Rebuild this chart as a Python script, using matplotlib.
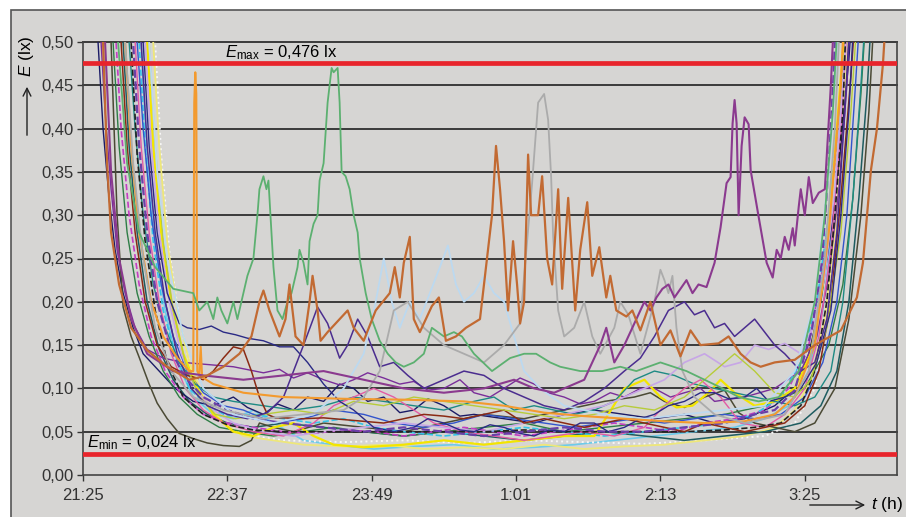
import matplotlib
matplotlib.use("Agg")
import matplotlib.pyplot as plt
from matplotlib.patches import Rectangle

plt.rcParams['font.family'] = ['Liberation Sans', 'DejaVu Sans']
plt.rcParams['mathtext.fontset'] = 'custom'
plt.rcParams['mathtext.rm'] = 'Liberation Sans'
plt.rcParams['mathtext.it'] = 'Liberation Sans:italic'

# time in minutes after 21:25, illuminance in lx
tick_pos = [0, 72, 144, 216, 288, 360]
tick_lab = ['21:25', '22:37', '23:49', '1:01', '2:13', '3:25']
y_ticks = [0.00, 0.05, 0.10, 0.15, 0.20, 0.25, 0.30, 0.35, 0.40, 0.45, 0.50]
e_max = 0.476
e_min = 0.024

# green line with the two big peaks
t_green = [13, 17.5, 22, 28, 36, 45, 55, 58, 62, 65, 67, 69, 72, 75, 77, 80, 82, 85, 87, 88, 90, 91.5,
           92.5, 93.5, 95, 97, 99.5, 102, 104, 107, 108, 110, 112, 113, 115, 117, 118, 120, 122, 124,
           125, 127, 128, 129, 131, 133, 135, 137, 138, 141, 144, 148, 152, 156, 160, 165, 170, 174,
           180, 185, 189, 195, 204, 213, 220, 226, 233, 238, 248, 259, 268, 276, 288, 301, 310, 319,
           327, 337, 347, 357, 365, 370, 374, 377]
e_green = [0.6, 0.5, 0.36, 0.28, 0.24, 0.215, 0.21, 0.19, 0.20, 0.18, 0.205, 0.19, 0.175, 0.20, 0.18,
           0.21, 0.23, 0.25, 0.30, 0.33, 0.345, 0.33, 0.34, 0.30, 0.24, 0.19, 0.18, 0.20, 0.21, 0.24,
           0.26, 0.245, 0.22, 0.27, 0.29, 0.30, 0.34, 0.36, 0.43, 0.47, 0.465, 0.47, 0.43, 0.35, 0.345,
           0.33, 0.30, 0.28, 0.25, 0.21, 0.18, 0.155, 0.14, 0.13, 0.125, 0.13, 0.14, 0.17, 0.16, 0.165,
           0.16, 0.14, 0.12, 0.135, 0.14, 0.14, 0.13, 0.125, 0.12, 0.12, 0.125, 0.12, 0.13, 0.12, 0.11,
           0.10, 0.09, 0.085, 0.09, 0.12, 0.2, 0.3, 0.42, 0.55]

# orange-brown line with many peaks
t_brown = [8, 10, 12, 14, 18, 24, 32, 42, 53, 62, 70, 78, 84, 88, 90, 93, 98, 101, 103, 106, 110, 113,
           114.5, 117, 118.5, 122, 128, 132, 135, 140, 146, 153, 155.5, 158, 160, 163, 165, 168, 174,
           177.5, 181, 186, 191, 198, 204, 206, 208, 210, 212, 214.5, 216.5, 218, 220, 222, 223.5, 227,
           229, 231.5, 234, 237, 239, 242, 245.5, 248, 251.5, 254, 257.5, 261, 263, 266, 271, 274, 278,
           283, 288, 293, 298, 303, 308, 317, 322, 328, 333, 338, 345, 355, 365, 378, 386, 389, 393,
           396, 399, 401]
e_brown = [0.62, 0.5, 0.36, 0.28, 0.22, 0.17, 0.144, 0.125, 0.11, 0.115, 0.125, 0.14, 0.16, 0.20,
           0.213, 0.19, 0.16, 0.18, 0.22, 0.16, 0.15, 0.20, 0.23, 0.19, 0.155, 0.165, 0.18, 0.19, 0.17,
           0.155, 0.19, 0.21, 0.24, 0.205, 0.245, 0.275, 0.18, 0.165, 0.195, 0.205, 0.155, 0.16, 0.17,
           0.18, 0.30, 0.38, 0.33, 0.27, 0.19, 0.27, 0.22, 0.175, 0.20, 0.37, 0.30, 0.30, 0.345, 0.25,
           0.22, 0.33, 0.215, 0.32, 0.19, 0.26, 0.315, 0.23, 0.263, 0.205, 0.23, 0.19, 0.183, 0.19,
           0.167, 0.20, 0.15, 0.167, 0.137, 0.167, 0.15, 0.152, 0.16, 0.14, 0.13, 0.125, 0.13, 0.133,
           0.15, 0.167, 0.205, 0.245, 0.352, 0.40, 0.475, 0.55]

# grey line with the peak after 1:01
t_grey = [19, 21, 25, 30, 36, 44, 55, 70, 90, 110, 130, 140, 148, 155, 162, 170, 180, 190, 200, 210,
          218, 224, 227, 230, 232, 233.5, 234.5, 237, 240, 245, 250, 254, 258, 265, 268, 272, 278, 285,
          288, 290, 292, 294, 296, 299, 305, 315, 330, 350, 362, 370, 375, 378]
e_grey = [0.6, 0.5, 0.36, 0.25, 0.17, 0.12, 0.09, 0.075, 0.065, 0.07, 0.075, 0.09, 0.12, 0.19, 0.2,
          0.17, 0.15, 0.14, 0.13, 0.15, 0.175, 0.337, 0.43, 0.44, 0.41, 0.344, 0.275, 0.19, 0.16, 0.17,
          0.2, 0.16, 0.14, 0.17, 0.2, 0.185, 0.14, 0.2, 0.237, 0.225, 0.21, 0.23, 0.17, 0.12, 0.09,
          0.07, 0.06, 0.07, 0.12, 0.25, 0.4, 0.55]

# pale blue line
t_pale = [30, 33, 37, 42, 50, 60, 75, 95, 115, 130, 140, 146, 150, 154, 158, 163, 168, 173, 178, 182,
          186, 190, 195, 200, 205, 210, 215, 220, 228, 240, 260, 280, 300, 320, 340, 355, 365, 372, 377]
e_pale = [0.6, 0.5, 0.35, 0.25, 0.16, 0.1, 0.07, 0.06, 0.07, 0.1, 0.14, 0.2, 0.25, 0.2, 0.17, 0.2,
          0.18, 0.21, 0.24, 0.265, 0.22, 0.2, 0.21, 0.23, 0.21, 0.2, 0.16, 0.12, 0.1, 0.08, 0.07, 0.065,
          0.07, 0.075, 0.08, 0.12, 0.2, 0.35, 0.52]

# purple line with the peaks before 3:25
t_plum = [9, 11, 14, 18, 24, 32, 45, 60, 80, 100, 120, 140, 160, 180, 200, 215, 225, 235, 250, 258,
          261, 265, 270, 276, 280, 283, 286, 289, 292, 295, 298, 301, 304, 307, 311, 315, 318, 321,
          323, 324, 325, 326, 327, 328.5, 330, 332, 333, 337, 341, 344, 346, 348, 350, 352, 354, 355,
          357, 358, 360, 362, 364, 367, 370, 373, 375]
e_plum = [0.6, 0.5, 0.35, 0.25, 0.18, 0.14, 0.12, 0.115, 0.11, 0.115, 0.12, 0.11, 0.1, 0.095, 0.1,
          0.11, 0.1, 0.095, 0.11, 0.15, 0.17, 0.13, 0.15, 0.18, 0.2, 0.19, 0.205, 0.215, 0.22, 0.205,
          0.215, 0.225, 0.21, 0.22, 0.217, 0.245, 0.286, 0.337, 0.344, 0.406, 0.433, 0.406, 0.30, 0.38,
          0.413, 0.405, 0.352, 0.298, 0.245, 0.228, 0.26, 0.25, 0.275, 0.26, 0.285, 0.265, 0.31,
          0.33, 0.30, 0.344, 0.314, 0.326, 0.33, 0.45, 0.55]

# orange line with the narrow spike
t_orange = [18, 21, 24, 28, 34, 40, 47, 53, 55, 55.5, 56, 56.5, 57, 58, 58.7, 59.4, 65, 80, 100, 130,
            160, 190, 210, 230, 250, 270, 290, 310, 330, 345, 355, 365, 372, 378, 380]
e_orange = [0.6, 0.5, 0.38, 0.28, 0.2, 0.16, 0.135, 0.12, 0.12, 0.43, 0.465, 0.44, 0.12, 0.115,
            0.148, 0.113, 0.105, 0.095, 0.09, 0.088, 0.087, 0.085, 0.08, 0.072, 0.068, 0.065, 0.062,
            0.06, 0.062, 0.07, 0.09, 0.15, 0.28, 0.45, 0.55]

t_navy = [5, 7.5, 10, 13, 16, 20, 25, 30, 38, 46, 55, 65, 75, 82, 90, 97, 105, 112, 120, 128, 135,
          142, 150, 158, 165, 172, 180, 188, 195, 210, 225, 240, 255, 270, 285, 300, 315, 330, 345,
          355, 362, 368, 373, 378, 382, 384]
e_navy = [0.62, 0.5, 0.40, 0.32, 0.26, 0.21, 0.17, 0.14, 0.12, 0.10, 0.085, 0.08, 0.09, 0.078, 0.07,
          0.082, 0.075, 0.09, 0.085, 0.105, 0.10, 0.085, 0.09, 0.072, 0.075, 0.088, 0.08, 0.068, 0.07,
          0.065, 0.06, 0.07, 0.075, 0.07, 0.065, 0.07, 0.06, 0.065, 0.08, 0.10, 0.14, 0.2, 0.28, 0.38,
          0.48, 0.55]

t_purple = [7, 9, 11, 14, 17, 21, 26, 32, 40, 50, 60, 75, 90, 98, 105, 112, 120, 128, 135, 142, 150,
            158, 165, 172, 180, 188, 195, 203, 210, 218, 225, 232, 240, 248, 255, 263, 270, 278, 285,
            293, 300, 308, 315, 330, 345, 358, 366, 372, 377, 381, 383]
e_purple = [0.6, 0.5, 0.42, 0.33, 0.26, 0.21, 0.17, 0.145, 0.135, 0.13, 0.128, 0.125, 0.118, 0.122,
            0.112, 0.118, 0.11, 0.104, 0.11, 0.118, 0.112, 0.105, 0.108, 0.098, 0.1, 0.11, 0.095, 0.09,
            0.1, 0.112, 0.105, 0.095, 0.09, 0.082, 0.085, 0.095, 0.09, 0.1, 0.1, 0.09, 0.095, 0.1,
            0.085, 0.09, 0.1, 0.12, 0.16, 0.23, 0.33, 0.45, 0.55]

t_olive = [12, 14, 17, 20, 24, 28, 33, 37, 42, 48, 55, 62, 70, 78, 84, 88, 95, 105, 120, 140, 160,
           180, 200, 220, 240, 260, 275, 283, 290, 300, 310, 320, 327, 335, 345, 355, 365, 375, 382,
           388, 392, 395]
e_olive = [0.65, 0.5, 0.3, 0.194, 0.16, 0.136, 0.105, 0.083, 0.065, 0.048, 0.042, 0.037, 0.034,
           0.033, 0.04, 0.06, 0.055, 0.05, 0.06, 0.055, 0.05, 0.06, 0.07, 0.065, 0.075, 0.085, 0.09,
           0.095, 0.085, 0.078, 0.09, 0.098, 0.072, 0.06, 0.055, 0.05, 0.06, 0.1, 0.18, 0.3, 0.42, 0.55]

t_dkgreen = [13, 15, 18, 22, 27, 33, 40, 48, 57, 68, 80, 95, 110, 125, 140, 160, 180, 200, 220, 240,
             260, 280, 300, 320, 340, 360, 372, 379, 384, 388, 391]
e_dkgreen = [0.6, 0.5, 0.38, 0.28, 0.21, 0.16, 0.12, 0.09, 0.07, 0.055, 0.05, 0.045, 0.05, 0.055,
             0.05, 0.045, 0.05, 0.055, 0.06, 0.05, 0.055, 0.06, 0.065, 0.07, 0.08, 0.1, 0.15, 0.22,
             0.32, 0.44, 0.55]

t_magenta = [14, 16.5, 19, 23, 28, 34, 41, 50, 60, 72, 85, 100, 115, 130, 145, 160, 175, 190, 205,
             220, 235, 250, 265, 280, 295, 310, 325, 340, 352, 362, 369, 375, 379, 382]
e_magenta = [0.6, 0.5, 0.4, 0.3, 0.22, 0.16, 0.12, 0.09, 0.07, 0.06, 0.055, 0.05, 0.048, 0.052, 0.05,
             0.045, 0.05, 0.055, 0.05, 0.045, 0.05, 0.055, 0.06, 0.055, 0.05, 0.06, 0.065, 0.075, 0.1,
             0.15, 0.24, 0.36, 0.48, 0.56]

t_cyan = [26, 28, 31, 35, 40, 46, 53, 62, 72, 85, 100, 115, 130, 145, 160, 180, 200, 220, 240, 260,
          280, 300, 320, 335, 348, 358, 366, 372, 377, 381]
e_cyan = [0.6, 0.5, 0.38, 0.27, 0.19, 0.14, 0.1, 0.08, 0.068, 0.07, 0.065, 0.06, 0.065, 0.055, 0.05,
          0.045, 0.05, 0.055, 0.05, 0.045, 0.05, 0.055, 0.06, 0.07, 0.09, 0.13, 0.2, 0.3, 0.42, 0.55]

t_violet = [23, 25, 28, 32, 37, 43, 50, 60, 72, 85, 100, 120, 140, 160, 180, 200, 220, 240, 260, 280,
            300, 320, 335, 345, 355, 363.5, 368.5, 372, 374.5, 376]
e_violet = [0.6, 0.5, 0.38, 0.28, 0.2, 0.15, 0.115, 0.09, 0.075, 0.065, 0.06, 0.055, 0.05, 0.055,
            0.05, 0.045, 0.05, 0.055, 0.05, 0.05, 0.055, 0.06, 0.07, 0.075, 0.098, 0.167, 0.245, 0.36,
            0.468, 0.56]

t_blue = [25, 27, 30, 34, 39, 45, 52, 60, 70, 80, 95, 110, 125, 140, 155, 170, 185, 200, 215, 230,
          245, 260, 275, 290, 305, 320, 335, 348, 360, 369, 376, 381, 385, 388]
e_blue = [0.6, 0.5, 0.4, 0.3, 0.22, 0.16, 0.12, 0.095, 0.08, 0.075, 0.06, 0.065, 0.075, 0.07, 0.06,
          0.055, 0.06, 0.07, 0.065, 0.06, 0.055, 0.06, 0.065, 0.06, 0.065, 0.07, 0.065, 0.07, 0.09,
          0.13, 0.2, 0.3, 0.44, 0.55]

t_navy2 = [28, 30, 33, 37, 42, 48, 52, 58, 64, 70, 76, 82, 90, 98, 105, 112, 120, 128, 135, 145, 155,
           165, 172, 180, 188, 195, 203, 210, 218, 225, 232, 240, 248, 255, 262, 270, 278, 285, 292,
           300, 308, 315, 322, 330, 336, 342, 350, 358, 366, 373, 378, 382, 385]
e_navy2 = [0.6, 0.5, 0.38, 0.28, 0.21, 0.175, 0.17, 0.168, 0.172, 0.165, 0.162, 0.158, 0.155, 0.148,
           0.148, 0.13, 0.105, 0.085, 0.075, 0.055, 0.05, 0.055, 0.065, 0.06, 0.052, 0.05, 0.058,
           0.055, 0.048, 0.045, 0.052, 0.05, 0.06, 0.06, 0.05, 0.055, 0.065, 0.07, 0.08, 0.085, 0.095,
           0.095, 0.088, 0.09, 0.1, 0.085, 0.09, 0.1, 0.13, 0.19, 0.3, 0.42, 0.55]

t_yellow = [30, 32, 35, 39, 44, 50, 57, 65, 75, 85, 95, 105, 115, 125, 140, 160, 180, 200, 220, 240,
            255, 262, 270, 280, 288, 296, 304, 312, 318, 325, 335, 345, 355, 363, 369, 374, 378, 381]
e_yellow = [0.6, 0.5, 0.38, 0.28, 0.2, 0.14, 0.1, 0.07, 0.05, 0.045, 0.055, 0.06, 0.045, 0.035, 0.032,
            0.035, 0.04, 0.035, 0.04, 0.045, 0.045, 0.07, 0.1, 0.11, 0.09, 0.078, 0.08, 0.095, 0.11,
            0.095, 0.08, 0.085, 0.1, 0.14, 0.22, 0.34, 0.46, 0.55]

t_ltyellow = [33, 35, 38, 42, 47, 53, 60, 70, 80, 95, 110, 130, 150, 170, 190, 210, 230, 250, 270,
              290, 310, 330, 345, 355, 363, 370, 375, 379, 383]
e_ltyellow = [0.6, 0.5, 0.38, 0.27, 0.19, 0.13, 0.09, 0.06, 0.045, 0.04, 0.035, 0.033, 0.035, 0.03,
              0.032, 0.03, 0.035, 0.03, 0.033, 0.035, 0.04, 0.045, 0.055, 0.075, 0.11, 0.18, 0.28,
              0.4, 0.55]

t_teal = [21, 23, 26, 30, 35, 41, 48, 56, 65, 75, 90, 105, 120, 135, 150, 165, 180, 195, 205, 215,
          225, 235, 245, 255, 265, 275, 285, 295, 305, 315, 325, 335, 345, 355, 365, 373, 379, 384,
          388, 391]
e_teal = [0.6, 0.5, 0.4, 0.3, 0.22, 0.17, 0.13, 0.105, 0.09, 0.085, 0.08, 0.075, 0.08, 0.09, 0.085,
          0.08, 0.075, 0.085, 0.09, 0.075, 0.08, 0.075, 0.07, 0.075, 0.085, 0.11, 0.12, 0.115, 0.105,
          0.1, 0.095, 0.09, 0.085, 0.08, 0.09, 0.12, 0.2, 0.32, 0.45, 0.56]

t_pink = [24, 26, 29, 33, 38, 44, 51, 60, 70, 85, 100, 115, 125, 135, 145, 155, 165, 175, 190, 205,
          220, 235, 250, 265, 280, 290, 300, 308, 318, 328, 340, 350, 360, 367, 373, 378, 382]
e_pink = [0.6, 0.5, 0.38, 0.28, 0.2, 0.14, 0.1, 0.075, 0.06, 0.05, 0.045, 0.06, 0.08, 0.09, 0.1,
          0.09, 0.075, 0.06, 0.05, 0.045, 0.04, 0.045, 0.05, 0.045, 0.055, 0.08, 0.1, 0.11, 0.09,
          0.06, 0.055, 0.07, 0.1, 0.16, 0.26, 0.4, 0.55]

t_lavender = [29, 31, 34, 38, 43, 49, 56, 65, 75, 90, 105, 120, 140, 160, 180, 200, 220, 240, 260,
              275, 290, 300, 310, 320, 328, 335, 342, 350, 358, 364, 370, 375, 379, 382]
e_lavender = [0.6, 0.5, 0.38, 0.28, 0.2, 0.14, 0.1, 0.075, 0.06, 0.05, 0.045, 0.05, 0.055, 0.06,
              0.055, 0.05, 0.06, 0.07, 0.08, 0.095, 0.11, 0.13, 0.14, 0.125, 0.13, 0.15, 0.145, 0.152,
              0.14, 0.17, 0.23, 0.33, 0.45, 0.55]

t_black = [22, 24, 27, 31, 36, 42, 50, 60, 72, 85, 100, 120, 140, 160, 180, 200, 220, 240, 260, 280,
           300, 320, 335, 348, 358, 365, 371, 375, 379, 381]
e_black = [0.6, 0.5, 0.37, 0.27, 0.19, 0.13, 0.09, 0.07, 0.058, 0.052, 0.05, 0.05, 0.05, 0.05, 0.05,
           0.05, 0.052, 0.05, 0.05, 0.05, 0.05, 0.052, 0.055, 0.06, 0.08, 0.12, 0.2, 0.3, 0.42, 0.55]

t_redbrown = [17, 19, 22, 26, 31, 37, 44, 52, 60, 65, 70, 75, 80, 84, 88, 92, 96, 100, 110, 120, 130,
              140, 150, 160, 170, 180, 190, 200, 210, 220, 230, 240, 250, 260, 270, 280, 290, 300,
              310, 320, 330, 340, 350, 360, 367, 373, 378, 383, 386]
e_redbrown = [0.6, 0.5, 0.38, 0.28, 0.2, 0.15, 0.125, 0.115, 0.11, 0.12, 0.135, 0.148, 0.145, 0.12,
              0.09, 0.07, 0.066, 0.066, 0.065, 0.066, 0.064, 0.062, 0.06, 0.065, 0.07, 0.068, 0.065,
              0.07, 0.075, 0.06, 0.065, 0.06, 0.055, 0.06, 0.065, 0.06, 0.055, 0.05, 0.06, 0.055,
              0.05, 0.055, 0.06, 0.08, 0.12, 0.2, 0.32, 0.46, 0.56]

t_indigo = [27, 29, 32, 36, 41, 47, 54, 62, 72, 82, 92, 100, 105, 110, 114, 117, 122, 128, 132, 137,
            142, 148, 155, 162, 170, 180, 190, 200, 210, 220, 230, 240, 250, 260, 270, 278, 285, 292,
            300, 305, 310, 315, 320, 325, 330, 335, 340, 345, 350, 358, 365, 371, 376, 380, 383]
e_indigo = [0.6, 0.5, 0.38, 0.28, 0.2, 0.14, 0.1, 0.08, 0.07, 0.065, 0.072, 0.09, 0.12, 0.15, 0.175,
            0.194, 0.175, 0.135, 0.15, 0.18, 0.16, 0.125, 0.13, 0.115, 0.1, 0.11, 0.12, 0.115, 0.1,
            0.09, 0.08, 0.075, 0.085, 0.1, 0.12, 0.135, 0.16, 0.19, 0.2, 0.185, 0.19, 0.17, 0.175,
            0.16, 0.17, 0.18, 0.165, 0.15, 0.14, 0.12, 0.13, 0.18, 0.28, 0.42, 0.55]

t_white = [34, 36, 39, 43, 48, 54, 62, 72, 85, 100, 130, 160, 190, 220, 250, 280, 310, 340, 355, 365,
           372, 377, 381]
e_white = [0.6, 0.5, 0.37, 0.26, 0.18, 0.12, 0.08, 0.055, 0.045, 0.04, 0.038, 0.04, 0.037, 0.04,
           0.038, 0.036, 0.04, 0.045, 0.06, 0.1, 0.2, 0.35, 0.55]

t_lime = [31, 33, 36, 40, 45, 51, 58, 66, 76, 90, 105, 120, 135, 150, 165, 180, 195, 210, 225, 240,
          255, 270, 285, 300, 315, 325, 335, 345, 355, 363, 371, 378, 383, 387]
e_lime = [0.6, 0.5, 0.38, 0.27, 0.19, 0.13, 0.09, 0.07, 0.065, 0.07, 0.075, 0.07, 0.085, 0.08, 0.09,
          0.085, 0.08, 0.075, 0.07, 0.065, 0.07, 0.08, 0.075, 0.09, 0.12, 0.14, 0.12, 0.095, 0.09,
          0.11, 0.17, 0.28, 0.42, 0.56]

t_sky = [27, 29, 32, 36, 41, 47, 55, 65, 75, 85, 95, 110, 125, 145, 165, 185, 205, 225, 245, 265,
         285, 305, 325, 340, 352, 362, 369, 374, 378, 381]
e_sky = [0.6, 0.5, 0.37, 0.27, 0.19, 0.13, 0.09, 0.07, 0.065, 0.075, 0.06, 0.04, 0.035, 0.03, 0.033,
         0.035, 0.03, 0.032, 0.035, 0.04, 0.045, 0.05, 0.055, 0.065, 0.08, 0.12, 0.19, 0.29, 0.42,
         0.55]

t_dkteal = [18, 20, 23, 27, 32, 38, 45, 53, 62, 72, 85, 100, 120, 140, 160, 180, 200, 220, 240, 260,
            280, 300, 320, 340, 358, 368, 376, 382, 387, 391, 394]
e_dkteal = [0.6, 0.5, 0.38, 0.28, 0.2, 0.145, 0.11, 0.085, 0.07, 0.06, 0.055, 0.06, 0.055, 0.05,
            0.045, 0.05, 0.045, 0.04, 0.045, 0.05, 0.045, 0.04, 0.045, 0.05, 0.06, 0.08, 0.12, 0.2,
            0.32, 0.44, 0.56]

W, H = 906, 517
fig = plt.figure(figsize=(W / 100, H / 100), dpi=100)
fig.patch.set_facecolor('white')
bg = '#D6D5D3'
fig.patches.append(Rectangle((11 / W, -0.05), 1.1, 1 - 10 / H + 0.05, transform=fig.transFigure,
                             facecolor=bg, edgecolor='#555555', linewidth=1.2, zorder=-10))

ax = fig.add_axes([83 / W, 42 / H, 814 / W, 433 / H])
ax.set_facecolor(bg)
ax.set_xlim(0, 406)
ax.set_ylim(0, 0.5)

for y in y_ticks[1:]:
    ax.axhline(y, color='#3A3A3A', lw=1.4, zorder=1, clip_on=False)

series = [
    (t_sky, e_sky, '#6CCBEA', '-', 1.2),
    (t_white, e_white, '#F6F6F6', ':', 1.4),
    (t_ltyellow, e_ltyellow, '#EEE77A', '-', 1.3),
    (t_dkteal, e_dkteal, '#1E5C60', '-', 1.1),
    (t_navy, e_navy, '#1B1B66', '-', 1.0),
    (t_purple, e_purple, '#7A2E9A', '-', 1.0),
    (t_olive, e_olive, '#4B4A35', '-', 1.1),
    (t_dkgreen, e_dkgreen, '#2E7D46', '-', 1.0),
    (t_magenta, e_magenta, '#C33CC3', '--', 1.2),
    (t_cyan, e_cyan, '#35C4E8', '--', 1.2),
    (t_blue, e_blue, '#3355CC', '-', 1.0),
    (t_yellow, e_yellow, '#F3E500', '-', 1.6),
    (t_teal, e_teal, '#1E8A84', '-', 1.0),
    (t_pink, e_pink, '#E35BA5', '-', 1.0),
    (t_lavender, e_lavender, '#C7A6E6', '-', 1.2),
    (t_black, e_black, '#222222', '--', 1.2),
    (t_redbrown, e_redbrown, '#8A2A14', '-', 1.1),
    (t_lime, e_lime, '#B7CC3A', '-', 1.0),
    (t_navy2, e_navy2, '#2A2A85', '-', 1.0),
    (t_indigo, e_indigo, '#4B2D8F', '-', 1.1),
    (t_violet, e_violet, '#6B3FA8', '--', 1.6),
    (t_pale, e_pale, '#BCD9F0', '-', 1.3),
    (t_orange, e_orange, '#F39A2E', '-', 1.5),
    (t_grey, e_grey, '#ABABAB', '-', 1.3),
    (t_green, e_green, '#5CB070', '-', 1.3),
    (t_plum, e_plum, '#8B3A8F', '-', 1.5),
    (t_brown, e_brown, '#C26A32', '-', 1.6),
]
for t, e, c, ls, lw in series:
    ax.plot(t, e, color=c, ls=ls, lw=lw, zorder=2)

ax.axhline(e_max, color='#E8242B', lw=3.4, zorder=3)
ax.axhline(e_min, color='#E8242B', lw=3.4, zorder=3)
ax.text(71, 0.488, r'$E_{\rm max}$ = 0,476 lx', fontsize=12, ha='left', va='center', zorder=4)
ax.text(2, 0.037, r'$E_{\rm min}$ = 0,024 lx', fontsize=12, ha='left', va='center', zorder=4)

ax.set_xticks(tick_pos)
ax.set_xticklabels(tick_lab)
ax.set_yticks(y_ticks)
ax.set_yticklabels([('%.2f' % v).replace('.', ',') for v in y_ticks])
ax.tick_params(direction='out', length=4, width=1, colors='#333333', labelsize=12, pad=3)
ax.tick_params(axis='x', pad=5)
for s in ['left', 'bottom', 'right']:
    ax.spines[s].set_color('#444444')
    ax.spines[s].set_linewidth(1.2)
ax.spines['top'].set_visible(False)

# axis labels with arrows
fig.text(27 / W, 1 - 56 / H, r'$E$ (lx)', rotation=90, ha='center', va='center', fontsize=12.5)
fig.add_artist(plt.Annotation('', xy=(27 / W, 1 - 84 / H), xytext=(27 / W, 1 - 138 / H),
                              xycoords='figure fraction', textcoords='figure fraction',
                              arrowprops=dict(arrowstyle='->', lw=1, color='#222222',
                                              mutation_scale=14)))
fig.add_artist(plt.Annotation('', xy=(868 / W, 1 - 505 / H), xytext=(807 / W, 1 - 505 / H),
                              xycoords='figure fraction', textcoords='figure fraction',
                              arrowprops=dict(arrowstyle='->', lw=1, color='#222222',
                                              mutation_scale=14)))
fig.text(871 / W, 1 - 505 / H, r'$t$ (h)', ha='left', va='center', fontsize=12.5)

fig.savefig('out.png', dpi=100)
